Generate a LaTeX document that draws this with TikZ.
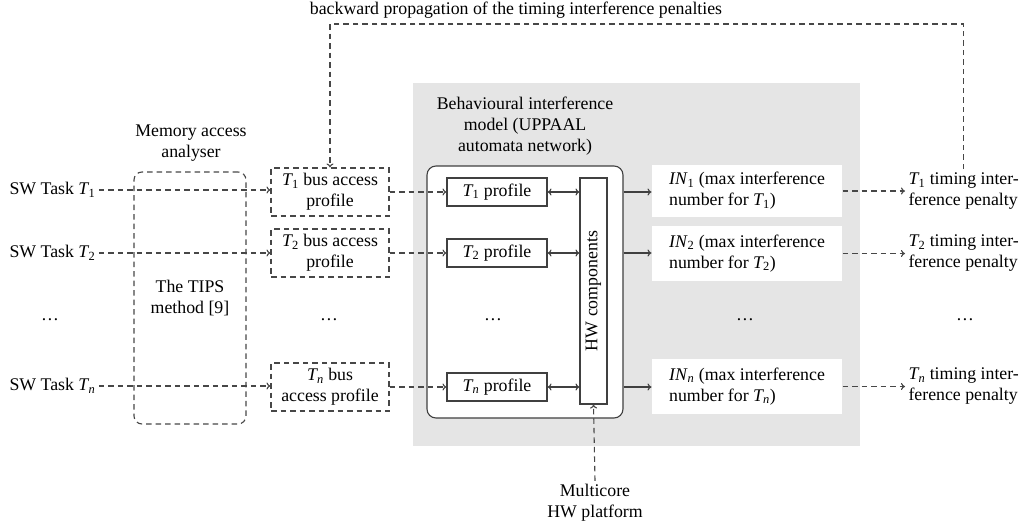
\documentclass[tikz,border=0pt]{standalone}
\usepackage{fontspec}
\setmainfont{Liberation Serif}
\usetikzlibrary{arrows.meta,calc}
% task and interference-number symbols set in the text italic
\newcommand\Tsym[1]{\textit{T}\kern-0.05em\textsubscript{#1}}
\newcommand\INsym[1]{\textit{IN}\textsubscript{#1}}
\begin{document}
\begin{tikzpicture}[x=1pt,y=-1pt,
  font=\fontsize{17.8}{21}\selectfont,
  line width=1pt,
  every node/.style={inner sep=3pt},
  dsh/.style={dash pattern=on 5.5pt off 4pt, draw=black!72, line width=1.1pt},
  dshbox/.style={dsh, minimum width=118pt, minimum height=48pt, align=center},
  profbox/.style={draw=black!75, line width=1.1pt, fill=white, minimum width=100pt, minimum height=28pt, inner sep=0pt},
  inbox/.style={fill=white, minimum width=190pt, align=left, inner xsep=17pt},
  darr/.style={dsh, -{To[length=4pt,width=7pt]}},
  sarr/.style={draw=black!75, line width=1.1pt, -{To[length=4pt,width=7pt]}},
  barr/.style={draw=black!75, line width=1.1pt, {To[length=4pt,width=7pt]}-{To[length=4pt,width=7pt]}},
  dotlbl/.style={inner sep=0pt}
]
\useasboundingbox (0,0) rectangle (1027,530);

% grey panel behind the interference model
\fill[black!10] (413,83) rectangle (860,446);

% title of the feedback loop
\node (title) at (516,10) {backward propagation of the timing interference penalties};
\coordinate (top) at (0,24);

% software tasks
\node[anchor=west] (sw1) at (6,190) {SW Task \Tsym{1}};
\node[anchor=west] (sw2) at (6,253) {SW Task \Tsym{2}};
\node[dotlbl] (swd) at (50,320) {\dots};
\node[anchor=west] (swn) at (6,386) {SW Task \Tsym{\textit{n}}};

% memory access analyser
\node[align=center] (memlbl) at (191,143) {Memory access\\analyser};
\node[dsh, rounded corners=8pt, minimum width=112pt, minimum height=252pt, align=center] (mem) at (190,298) {The TIPS\\method [9]};

% bus access profiles
\node[dshbox] (bus1) at (330,192) {\Tsym{1} bus access\\profile};
\node[dshbox] (bus2) at (330,253) {\Tsym{2} bus access\\profile};
\node[dotlbl] (busd) at (329,320) {\dots};
\node[dshbox] (busn) at (330,387) {\Tsym{\textit{n}} bus\\access profile};

% behavioural interference model
\node[align=center] (modlbl) at (525,126) {Behavioural interference\\model (UPPAAL\\automata network)};
\node[draw=black!75, line width=1.1pt, fill=white, rounded corners=9pt, minimum width=196pt, minimum height=252pt] (model) at (525,292) {};
\node[profbox] (prof1) at (497,192) {\Tsym{1} profile};
\node[profbox] (prof2) at (497,253) {\Tsym{2} profile};
\node[dotlbl] (profd) at (493,320) {\dots};
\node[profbox] (profn) at (497,387) {\Tsym{\textit{n}} profile};
\node[draw=black!75, line width=1.1pt, fill=white, minimum width=27pt, minimum height=226pt, inner sep=0pt] (hw) at (593.5,291) {};
\node[rotate=90] (hwlbl) at (hw.center) {HW components};

% interference numbers
\node[inbox, minimum height=52pt] (in1) at (747,191) {\INsym{1} (max interference\\number for \Tsym{1})};
\node[inbox, minimum height=55pt] (in2) at (747,253.5) {\INsym{2} (max interference\\number for \Tsym{2})};
\node[dotlbl] (ind) at (745,320) {\dots};
\node[inbox, minimum height=55pt] (inn) at (747,386.5) {\INsym{\textit{n}} (max interference\\number for \Tsym{\textit{n}})};

% timing interference penalties
\node[anchor=west, align=left] (tim1) at (905,191) {\Tsym{1} timing inter-\\ference penalty};
\node[anchor=west, align=left] (tim2) at (905,253) {\Tsym{2} timing inter-\\ference penalty};
\node[dotlbl] (timd) at (965,320) {\dots};
\node[anchor=west, align=left] (timn) at (905,386) {\Tsym{\textit{n}} timing inter-\\ference penalty};

% hardware platform
\node[align=center] (mc) at (595,503) {Multicore\\HW platform};

% connectors
\foreach \i in {1,2,n} {
  \draw[darr] (sw\i.east) -- (sw\i.east -| bus\i.west);
  \draw[darr] (bus\i.east) -- (bus\i.east -| prof\i.west);
  \draw[barr] (prof\i.east) -- (prof\i.east -| hw.west);
  \draw[sarr] (prof\i.east -| model.east) -- (prof\i.east -| in\i.west);
  \draw[darr] (in\i.east) -- (in\i.east -| tim\i.west);
}
\draw[darr] (mc.north) -- (hw.south);
\draw[darr] (tim1.north) -- (tim1.north |- top) -- (bus1.north |- top) -- (bus1.north);
\end{tikzpicture}
\end{document}
